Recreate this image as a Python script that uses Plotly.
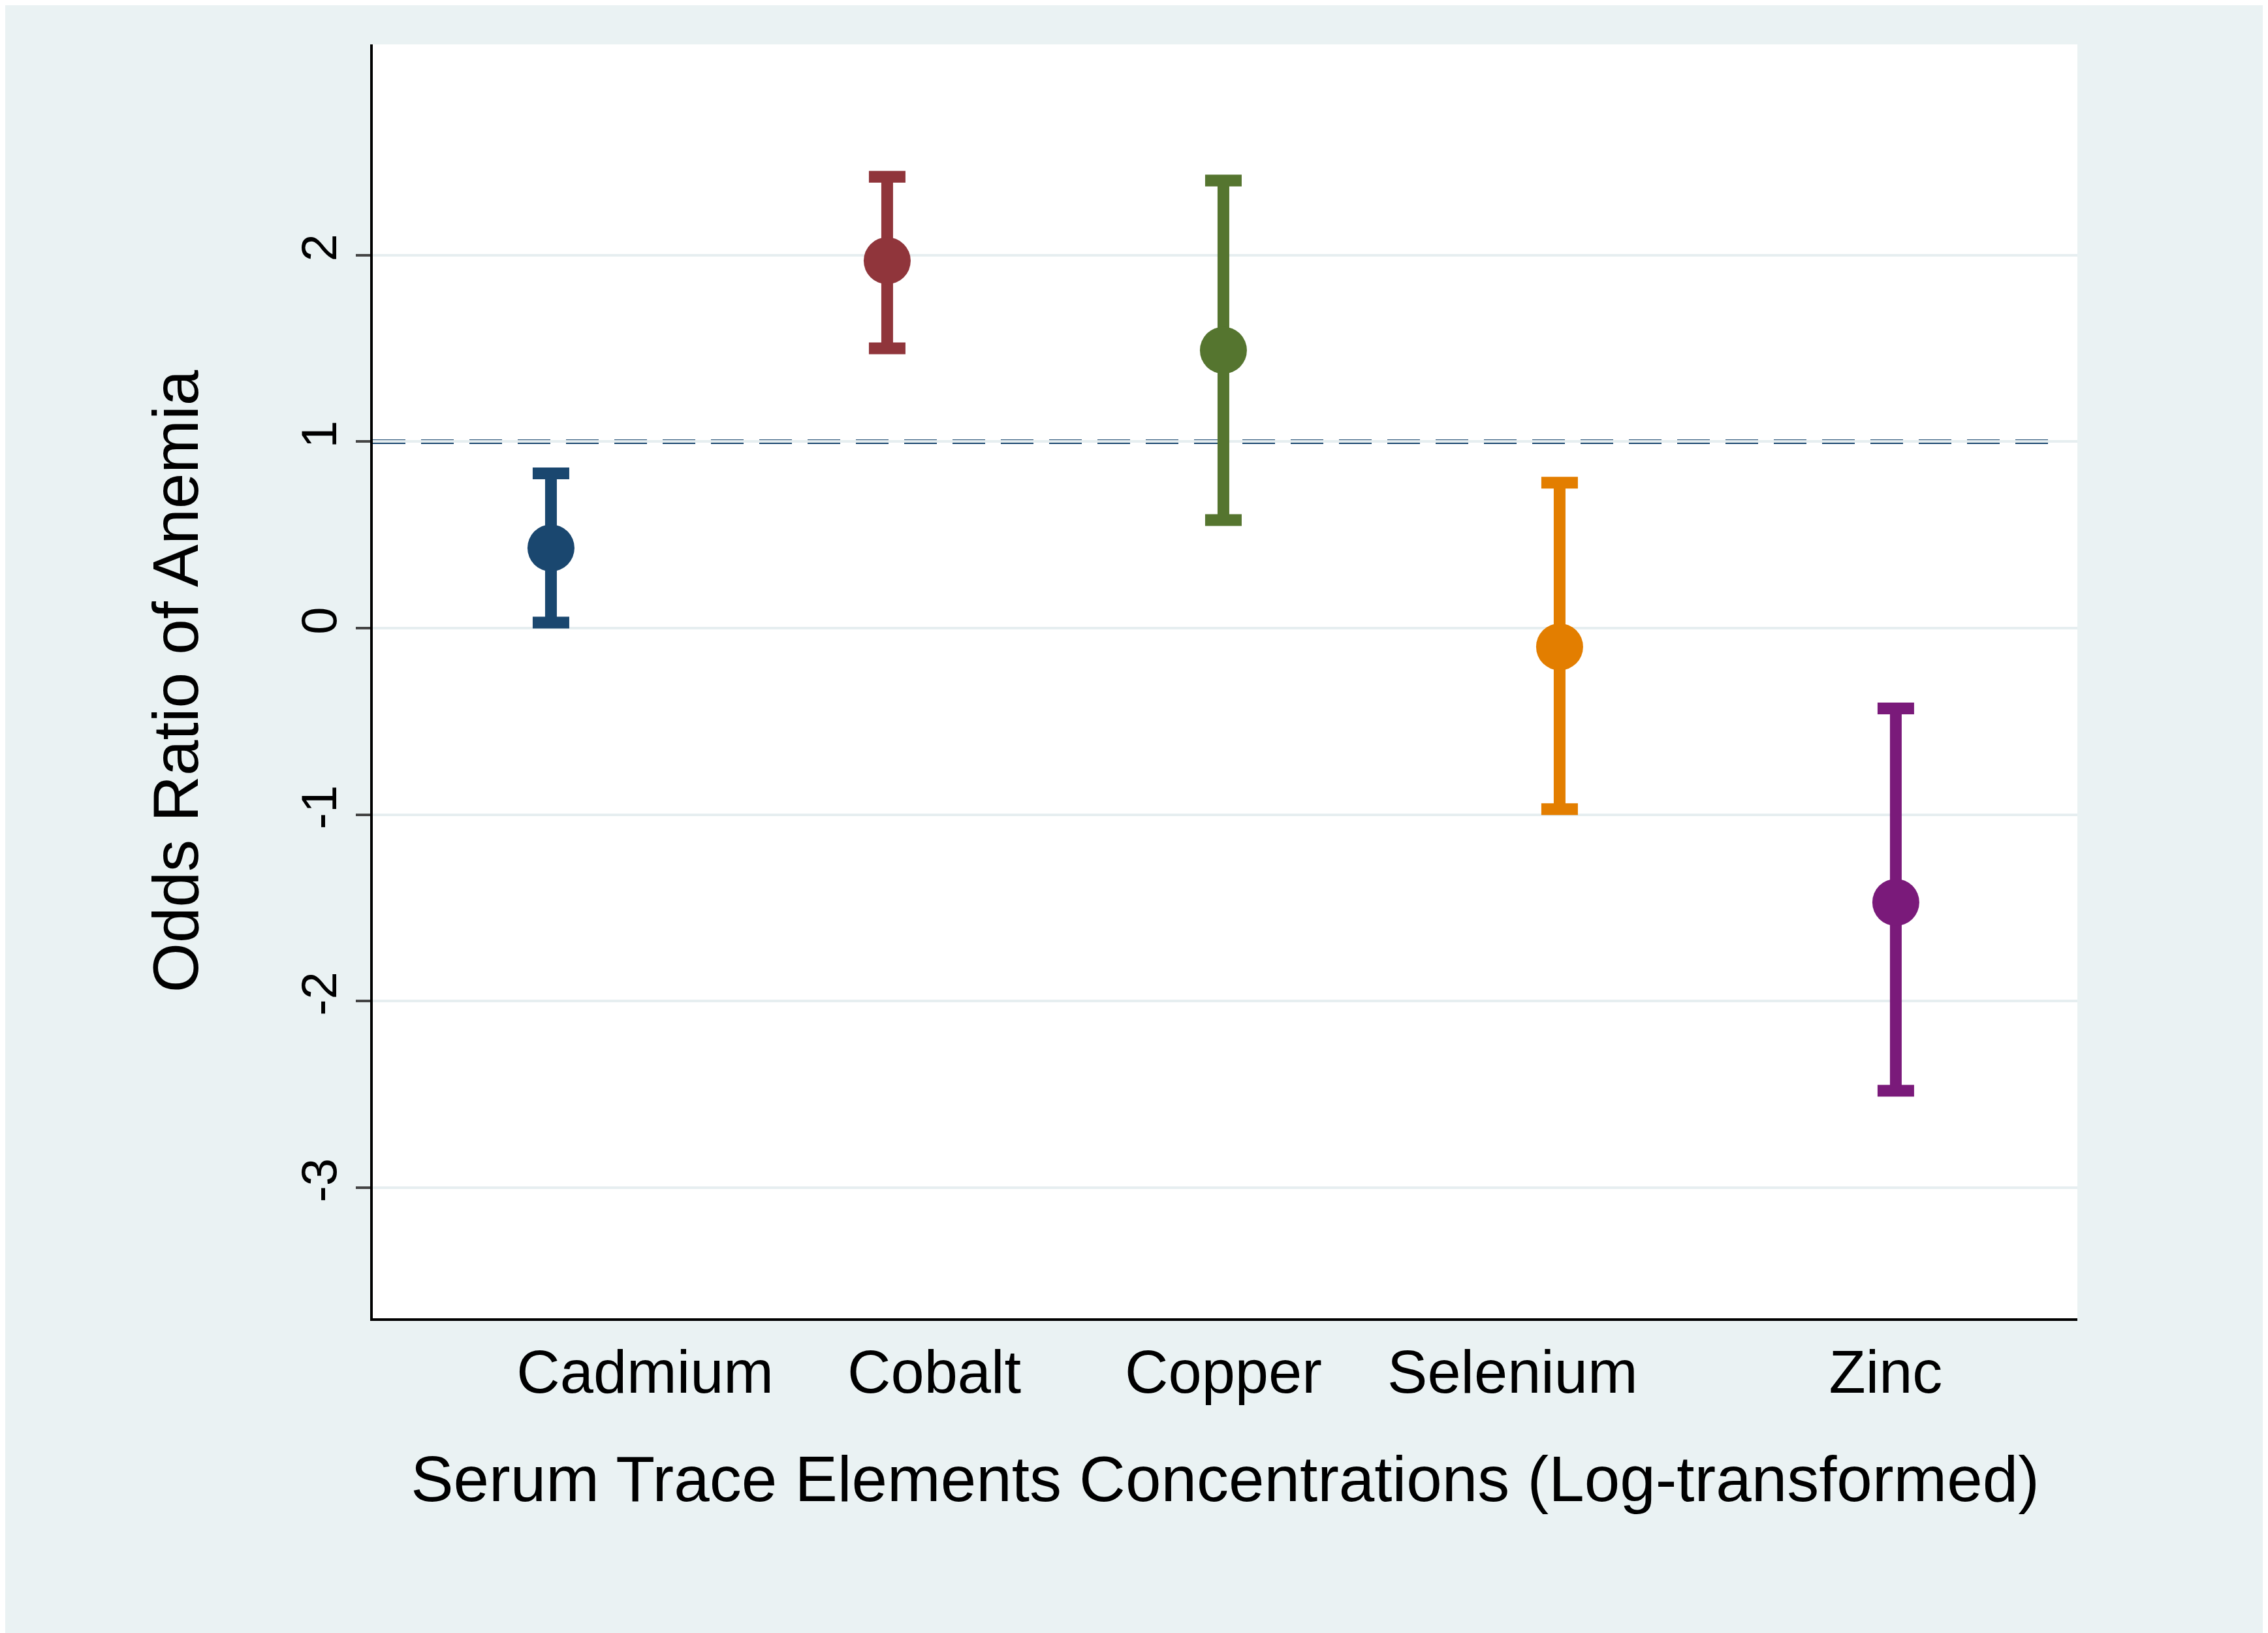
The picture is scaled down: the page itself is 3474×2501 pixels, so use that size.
import plotly.graph_objects as go

elements = ["Cadmium", "Cobalt", "Copper", "Selenium", "Zinc"]
positions = [1, 2, 3, 4, 5]
odds = [0.43, 1.97, 1.49, -0.10, -1.47]
lower = [0.03, 1.50, 0.58, -0.97, -2.48]
upper = [0.83, 2.42, 2.40, 0.78, -0.43]
colors = ["#1a476f", "#90353b", "#55752f", "#e37e00", "#7a1a7a"]
label_pos = [1.28, 2.14, 3.0, 3.86, 4.97]
yticks = [-3, -2, -1, 0, 1, 2]

fig = go.Figure()
for i in range(len(elements)):
    fig.add_trace(go.Scatter(
        x=[positions[i]], y=[odds[i]], mode="markers",
        marker=dict(size=72, color=colors[i]),
        error_y=dict(type="data", symmetric=False,
                     array=[upper[i] - odds[i]], arrayminus=[odds[i] - lower[i]],
                     color=colors[i], thickness=18, width=28),
        showlegend=False))

fig.add_shape(type="line", xref="x", yref="y", x0=0.47, x1=5.49, y0=1, y1=1,
              line=dict(color="#1a476f", width=7, dash="50px,24px"), layer="below")

fig.update_layout(
    width=3474, height=2501, paper_bgcolor="#eaf2f3", plot_bgcolor="white",
    margin=dict(l=563, r=300, t=60, b=490),
    font=dict(family="Liberation Sans, Arial", color="black"),
    xaxis=dict(range=[0.47, 5.54], tickvals=label_pos, ticktext=elements,
               showgrid=False, zeroline=False, ticks="", showline=True,
               linecolor="black", linewidth=4, tickfont=dict(size=92),
               title=dict(text="Serum Trace Elements Concentrations (Log-transformed)",
                          font=dict(size=98), standoff=80)),
    yaxis=dict(range=[-3.70, 3.13], tickvals=yticks, ticktext=[str(v) for v in yticks],
               tickangle=-90, showgrid=True, gridcolor="#e6eef0", gridwidth=4,
               zeroline=False, ticks="outside", ticklen=22, tickwidth=4,
               showline=True, linecolor="black", linewidth=4, tickfont=dict(size=76),
               title=dict(text="Odds Ratio of Anemia", font=dict(size=98), standoff=110)),
)
fig.write_html("out.html")
